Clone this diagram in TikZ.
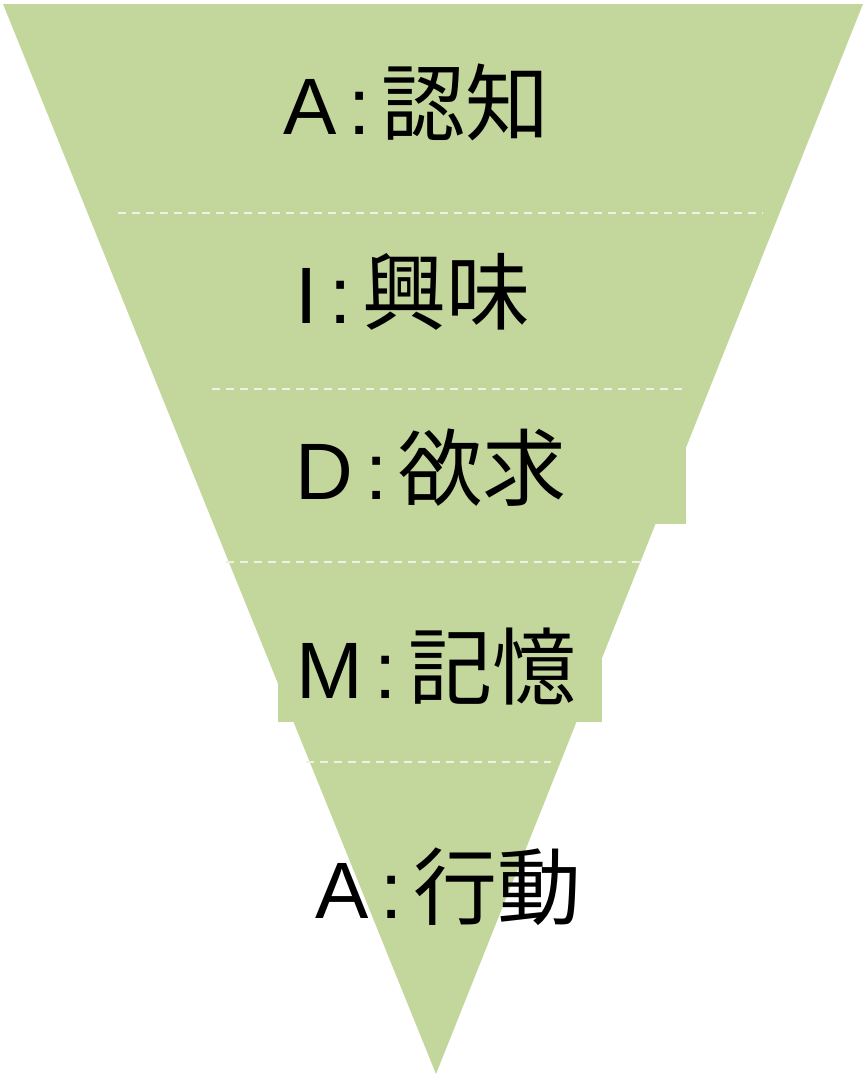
\documentclass[tikz,border=0pt]{standalone}
\usepackage{fontspec}
\usepackage{tikz}
\newfontfamily\latfont{Liberation Sans}
\newfontfamily\jpfont{Noto Sans CJK JP}
\definecolor{funnelgreen}{HTML}{C3D69B}
\definecolor{dashwhite}{HTML}{EDF2E4}
\newcommand{\stagelabel}[2]{{\latfont #1}\hspace{12pt}{\latfont :}\hspace{11pt}{\jpfont\fontsize{84}{96}\selectfont #2}}

\begin{document}
\begin{tikzpicture}[x=1pt,y=-1pt,stage node/.style={inner sep=0pt, anchor=base west, font=\fontsize{80}{96}\selectfont},split line/.style={dashwhite, line width=2pt, dash pattern=on 8pt off 6pt}]
			\useasboundingbox (0,0) rectangle (865,1074);
			% Funnel
			\fill[funnelgreen] (3,4) -- (863,4) -- (436,1074) -- cycle;
			\fill[funnelgreen] (220,414) rectangle (686,524);
			\fill[funnelgreen] (278,612) rectangle (602,722);
			
			% Dashed lines
			\draw[split line] (118,213) -- (763,213);
			\draw[split line] (212,389) -- (683,389);
			\draw[split line] (226,562) -- (640,562);
			\draw[split line] (306,762) -- (551,762);
			
			% Nodes
			\node[stage node] (a1) at (283,134) {\stagelabel{A}{認知}};
			\node[stage node] (i) at (295,323) {\stagelabel{I}{興味}};
			\node[stage node] (d) at (295.5,499) {\stagelabel{D}{欲求}};
			\node[stage node] (m) at (296,698) {\stagelabel{M}{記憶}};
			\node[stage node] (a2) at (315,918) {\stagelabel{A}{行動}};
			
		\end{tikzpicture}
\end{document}
